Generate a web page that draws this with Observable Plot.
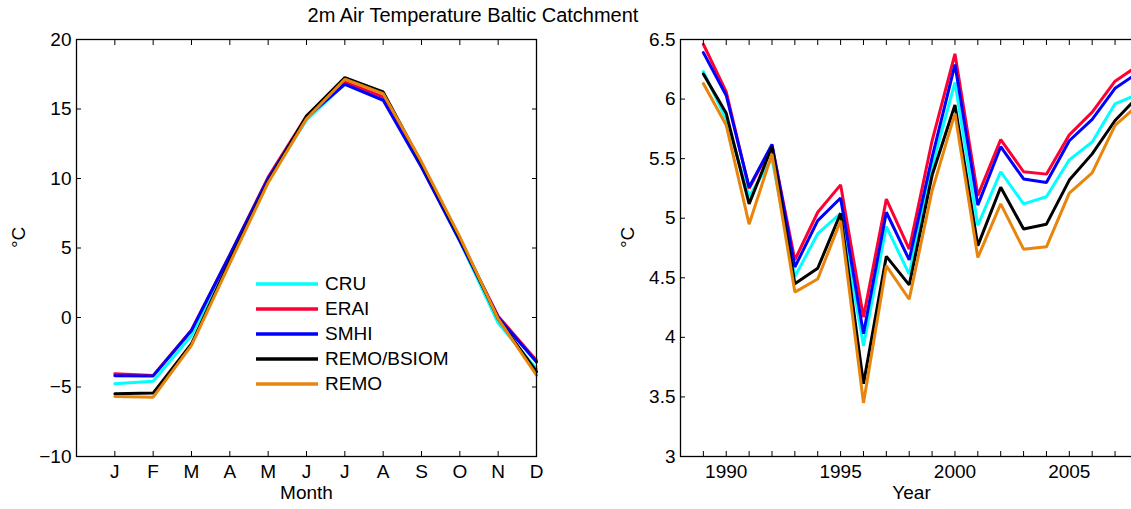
<!DOCTYPE html>
<html>
<head>
<meta charset="utf-8">
<script src="https://cdn.jsdelivr.net/npm/d3@7"></script>
<script src="https://cdn.jsdelivr.net/npm/@observablehq/plot@0.6"></script>
<style>
  html, body { margin: 0; padding: 0; background: #fff; overflow: hidden; }
  #fig { position: relative; width: 1131px; height: 509px; overflow: hidden;
         font-family: "Liberation Sans", Arial, Helvetica, sans-serif; color: #000; background: #fff; }
  #title { position: absolute; left: 0; width: 946px; top: 4px; text-align: center; font-size: 20px; white-space: nowrap; z-index: 2; }
  #left { position: absolute; left: 0; top: 0; width: 546px; z-index: 1; }
  #right { position: absolute; left: 600px; top: 0; width: 562px; z-index: 1; }
  #left svg, #right svg { max-width: none; }
  #legend { position: absolute; left: 256px; top: 271px; font-size: 19px; z-index: 2; }
  #legend .row { display: flex; align-items: center; height: 25.2px; }
  #legend svg { width: 62px; height: 6px; margin-right: 7px; }
</style>
</head>
<body>
<div id="fig">
  <div id="left"></div>
  <div id="right"></div>
  <div id="title">2m Air Temperature Baltic Catchment</div>
  <div id="legend"></div>
</div>
<script>
// Datasets and their line colours
const seriesNames  = ["CRU", "ERAI", "SMHI", "REMO/BSIOM", "REMO"];
const seriesColors = ["#00ffff", "#ff0033", "#0000ff", "#000000", "#e8850c"];

// Mean annual cycle (°C), January..December
const monthLabels = ["J", "F", "M", "A", "M", "J", "J", "A", "S", "O", "N", "D"];
const cruMonthly       = [-4.77, -4.58, -1.29, 4.3, 9.9, 14.2, 16.83, 15.75, 10.9, 5.5, -0.4, -3.7];
const eraiMonthly      = [-4.05, -4.17, -0.9, 4.5, 10.1, 14.5, 16.95, 15.87, 10.9, 5.6, 0.1, -3.1];
const smhiMonthly      = [-4.19, -4.2, -0.93, 4.5, 10.0, 14.4, 16.78, 15.63, 10.8, 5.5, 0.0, -3.2];
const remoBsiomMonthly = [-5.49, -5.44, -1.89, 4.1, 9.8, 14.5, 17.26, 16.23, 11.1, 5.7, -0.1, -3.9];
const remoMonthly      = [-5.68, -5.73, -2.0, 3.9, 9.7, 14.3, 17.14, 16.1, 11.2, 5.8, -0.1, -4.15];

// Annual means (°C)
const years = [1989, 1990, 1991, 1992, 1993, 1994, 1995, 1996, 1997, 1998,
               1999, 2000, 2001, 2002, 2003, 2004, 2005, 2006, 2007, 2008];
const cruAnnual       = [6.23, 5.83, 5.18, 5.50, 4.51, 4.87, 5.04, 3.93, 4.93, 4.53,
                         5.43, 6.14, 4.94, 5.39, 5.12, 5.18, 5.49, 5.64, 5.96, 6.04];
const eraiAnnual      = [6.46, 6.06, 5.25, 5.61, 4.65, 5.05, 5.28, 4.17, 5.16, 4.74,
                         5.65, 6.38, 5.19, 5.66, 5.39, 5.37, 5.70, 5.89, 6.15, 6.28];
const smhiAnnual      = [6.39, 6.03, 5.26, 5.62, 4.59, 4.98, 5.17, 4.03, 5.05, 4.65,
                         5.51, 6.29, 5.11, 5.60, 5.33, 5.30, 5.65, 5.83, 6.09, 6.22];
const remoBsiomAnnual = [6.21, 5.88, 5.12, 5.60, 4.45, 4.58, 5.04, 3.61, 4.68, 4.44,
                         5.36, 5.95, 4.77, 5.26, 4.91, 4.95, 5.32, 5.54, 5.82, 6.02];
const remoAnnual      = [6.13, 5.78, 4.95, 5.54, 4.38, 4.49, 4.98, 3.45, 4.60, 4.32,
                         5.23, 5.88, 4.67, 5.12, 4.74, 4.76, 5.21, 5.38, 5.78, 5.95];

// Axis ticks
const monthTicks = [1, 2, 3, 4, 5, 6, 7, 8, 9, 10, 11, 12];
const tempTicks  = [-10, -5, 0, 5, 10, 15, 20];
const yearTicks  = [1989, 1990, 1991, 1992, 1993, 1994, 1995, 1996, 1997, 1998, 1999,
                    2000, 2001, 2002, 2003, 2004, 2005, 2006, 2007, 2008];
const yearLabelTicks = [1990, 1995, 2000, 2005];
const annualTicks = [3, 3.5, 4, 4.5, 5, 5.5, 6, 6.5];

const monthlySeries = [cruMonthly, eraiMonthly, smhiMonthly, remoBsiomMonthly, remoMonthly];
const annualSeries  = [cruAnnual, eraiAnnual, smhiAnnual, remoBsiomAnnual, remoAnnual];

const monthTable = seriesNames.flatMap((name, s) =>
  monthlySeries[s].map((v, i) => ({series: name, month: monthTicks[i], value: v})));
const yearTable = seriesNames.flatMap((name, s) =>
  annualSeries[s].map((v, i) => ({series: name, year: years[i], value: v})));

const font = "'Liberation Sans', Arial, Helvetica, sans-serif";
const baseStyle = {fontFamily: font, fontSize: "19px", color: "black", background: "transparent", overflow: "visible"};
const color = {domain: seriesNames, range: seriesColors};
const TICK = 5;

// Inward-pointing ticks on all four sides of a panel
function boxTicks(xTicks, yTicks) {
  return [
    Plot.axisX(xTicks, {anchor: "bottom", tickSize: TICK, dy: -TICK, text: null, label: null}),
    Plot.axisX(xTicks, {anchor: "top", tickSize: TICK, dy: TICK, text: null, label: null}),
    Plot.axisY(yTicks, {anchor: "left", tickSize: TICK, dx: TICK, text: null, label: null}),
    Plot.axisY(yTicks, {anchor: "right", tickSize: TICK, dx: -TICK, text: null, label: null})
  ];
}

// Panel 1: mean annual cycle
const left = Plot.plot({
  width: 546, height: 509,
  marginLeft: 76, marginRight: 10, marginTop: 39, marginBottom: 53,
  style: baseStyle,
  x: {domain: [0, 12], axis: null},
  y: {domain: [-10, 20], axis: null},
  color,
  marks: [
    Plot.line(monthTable, {x: "month", y: "value", z: "series", stroke: "series", strokeWidth: 3, strokeLinejoin: "miter"}),
    ...boxTicks(monthTicks, tempTicks),
    Plot.axisX(monthTicks, {anchor: "bottom", tickSize: 0, tickPadding: 8, tickFormat: m => monthLabels[m - 1], label: null}),
    Plot.axisY(tempTicks, {anchor: "left", tickSize: 0, tickPadding: 5, label: null}),
    Plot.frame({stroke: "black", strokeWidth: 1.3}),
    Plot.text(["Month"], {text: d => d, frameAnchor: "bottom", dy: 42, fontSize: 19}),
    Plot.text(["°C"], {text: d => d, frameAnchor: "left", dx: -58, rotate: -90, fontSize: 19})
  ]
});
document.getElementById("left").append(left);

// Panel 2: annual means
const right = Plot.plot({
  width: 562, height: 509,
  marginLeft: 80, marginRight: 20, marginTop: 39, marginBottom: 53,
  style: baseStyle,
  x: {domain: [1988, 2008.2], axis: null},
  y: {domain: [3, 6.5], axis: null},
  color,
  marks: [
    Plot.line(yearTable, {x: "year", y: "value", z: "series", stroke: "series", strokeWidth: 3, strokeLinejoin: "miter"}),
    ...boxTicks(yearTicks, annualTicks),
    Plot.axisX(yearLabelTicks, {anchor: "bottom", tickSize: 0, tickPadding: 8, tickFormat: d => String(d), label: null}),
    Plot.axisY(annualTicks, {anchor: "left", tickSize: 0, tickPadding: 5, tickFormat: d => String(d), label: null}),
    Plot.frame({stroke: "black", strokeWidth: 1.3}),
    Plot.text(["Year"], {text: d => d, frameAnchor: "bottom", dy: 42, fontSize: 19}),
    Plot.text(["°C"], {text: d => d, frameAnchor: "left", dx: -53, rotate: -90, fontSize: 19})
  ]
});
document.getElementById("right").append(right);

// Legend inside the first panel
const legend = document.getElementById("legend");
seriesNames.forEach((name, i) => {
  const row = document.createElement("div");
  row.className = "row";
  row.innerHTML = `<svg viewBox="0 0 62 6"><line x1="0" x2="62" y1="3" y2="3" stroke="${seriesColors[i]}" stroke-width="3.5"/></svg><span>${name}</span>`;
  legend.append(row);
});
</script>
</body>
</html>
